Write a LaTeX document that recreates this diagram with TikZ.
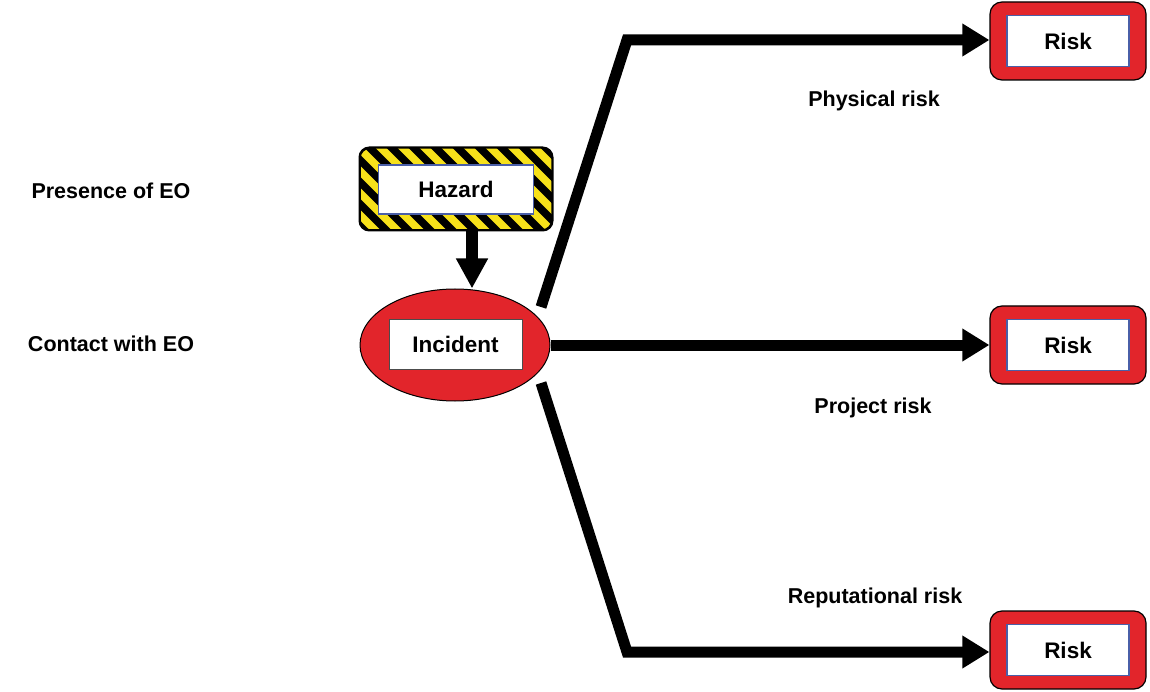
\documentclass[tikz,border=0pt]{standalone}
\usepackage{fontspec}
\setmainfont{Liberation Sans}
\usetikzlibrary{arrows.meta,shapes.geometric,calc}
\definecolor{rred}{HTML}{E2252B}
\definecolor{bblue}{HTML}{4A5FA8}
\definecolor{yyel}{HTML}{F7E11A}
\begin{document}
\begin{tikzpicture}[x=1pt,y=-1pt,
  lbl/.style={font=\fontsize{21.5}{24}\selectfont\bfseries},
  boxtxt/.style={font=\fontsize{22.5}{26}\selectfont\bfseries},
  innerbox/.style={draw=bblue, line width=1.6pt, fill=white, inner sep=0pt, boxtxt},
  conn/.style={line width=11pt, line join=miter, -{Triangle[length=27pt,width=31pt]}},
  riskouter/.style={draw=black, line width=1.2pt, fill=rred, rounded corners=12pt,
    minimum width=156pt, minimum height=78pt, inner sep=0pt}]
\useasboundingbox (0,0) rectangle (1150,692);

% risk boxes
\foreach \n/\y in {r1/41, r2/345, r3/650} {
  \node[riskouter] (\n o) at (1068,\y) {};
  \node[innerbox, minimum width=122pt, minimum height=51pt] (\n) at (1068,\y) {Risk};
}

% hazard
\node[draw=black, line width=1.5pt, rounded corners=10pt, minimum width=192pt,
  minimum height=82pt, inner sep=0pt,
  path picture={
    \fill[yyel] (path picture bounding box.south west) rectangle (path picture bounding box.north east);
    \foreach \k in {-5,...,10}
      \draw[line width=7.5pt] ($(path picture bounding box.north west)+(\k*22,-10)$) -- ++(110,110);
  }] (hazo) at (456,189) {};
\draw[black, line width=1.5pt, rounded corners=10pt] (hazo.south west) rectangle (hazo.north east);
\node[innerbox, minimum width=155pt, minimum height=49pt] (haz) at (456,189.5) {Hazard};

% incident
\node[ellipse, draw=black, line width=1pt, fill=rred, minimum width=190pt,
  minimum height=112pt, inner sep=0pt] (inco) at (455,345) {};
\node[draw=black!70, line width=0.8pt, fill=white, minimum width=133pt,
  minimum height=50pt, inner sep=0pt, boxtxt] (inc) at (455.5,344) {Incident};

% labels
\node[lbl] (l1) at (111,191) {Presence of EO};
\node[lbl] (l2) at (111,344) {Contact with EO};
\node[lbl] (l3) at (874,101) {Physical risk};
\node[lbl] (l4) at (873,408) {Project risk};
\node[lbl] (l5) at (875,598) {Reputational risk};

% connectors
\coordinate (h1) at ($(hazo.south)+(16,0)$);
\draw[line width=12pt, -{Triangle[length=30pt,width=30pt]}] (h1) -- (h1 |- inco.north);

\coordinate (s1) at (541,307);
\coordinate (b1) at (627,40);
\draw[conn] (s1) -- (b1) -- (b1 -| r1o.west);

\draw[conn] (inco.east) -- (r2o.west);

\coordinate (s3) at (541,383);
\coordinate (b3) at (627,652);
\draw[conn] (s3) -- (b3) -- (b3 -| r3o.west);
\end{tikzpicture}
\end{document}
